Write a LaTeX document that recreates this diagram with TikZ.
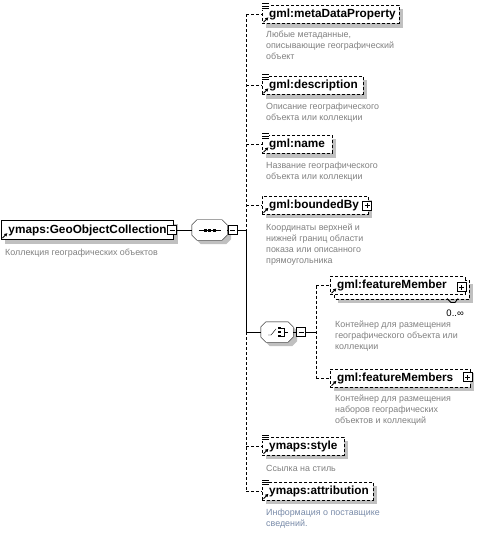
\documentclass[tikz,border=0pt]{standalone}
\usepackage{fontspec}
\setmainfont{Liberation Sans}
\usetikzlibrary{arrows.meta}
\pgfdeclarelayer{shadowlayer}
\pgfdeclarelayer{copylayer}
\pgfsetlayers{shadowlayer,copylayer,main}
\definecolor{shadowgray}{RGB}{192,192,192}
\definecolor{desc}{RGB}{128,128,128}
\definecolor{descblue}{RGB}{120,138,168}
\newcommand\pmminus[1]{\draw[line width=1pt,solid] ([xshift=-2.5pt]#1.center) -- ([xshift=2.5pt]#1.center);}
\newcommand\pmplus[1]{\pmminus{#1}\draw[line width=1pt,solid] ([yshift=-2.5pt]#1.center) -- ([yshift=2.5pt]#1.center);}
\newcommand\simpleicon[1]{%
  \fill[white] ([shift={(-1,-2.5)}]#1.north west) rectangle ([shift={(7,4.5)}]#1.north west);
  \foreach \d in {-1.5,0.8,3.1} \draw[line width=0.9pt,solid] ([shift={(0,\d)}]#1.north west) -- ++(6.5,0);}
\newcommand\refarrow[1]{%
  \draw[line width=0.9pt,solid,-{Triangle[length=3pt,width=3.2pt]}] ([shift={(1.5,-1.5)}]#1.south west) -- ++(4.8,-4.8);}
\newcommand\boxshadow[2][4]{%
  \begin{pgfonlayer}{shadowlayer}
  \fill[shadowgray] ([shift={(#1,#1)}]#2.north west) rectangle ([shift={(#1,#1)}]#2.south east);
  \end{pgfonlayer}}
\newcommand\octagon[3]{([shift={(#2+5,#3)}]#1.north west) -- ([shift={(#2-5,#3)}]#1.north east) -- ([shift={(#2,#3+5)}]#1.north east) -- ([shift={(#2,#3-5)}]#1.south east) -- ([shift={(#2-5,#3)}]#1.south east) -- ([shift={(#2+5,#3)}]#1.south west) -- ([shift={(#2,#3-5)}]#1.south west) -- ([shift={(#2,#3+5)}]#1.north west) -- cycle}
\begin{document}
\begin{tikzpicture}[x=1pt,y=-1pt,line width=1pt,
  box/.style={draw, fill=white, anchor=west, minimum height=18pt, inner xsep=7pt, inner ysep=0pt, align=left, font=\fontsize{11.8}{14}\selectfont\bfseries},
  solidbox/.style={box},
  optbox/.style={box, dash pattern=on 3pt off 2pt},
  dsc/.style={anchor=base west, inner sep=0pt, align=left, text=desc, font=\fontsize{8.9}{11}\selectfont},
  pm/.style={draw, solid, fill=white, minimum size=9pt, inner sep=0pt},
  optconn/.style={draw, dash pattern=on 3pt off 2pt},
  grp/.style={minimum height=20pt, inner sep=0pt},
]
\useasboundingbox (0,0) rectangle (481,534);

% root element
\node[solidbox, text width=158] (root) at (1,230) {ymaps:GeoObjectCollection};
\boxshadow{root}\refarrow{root}
\node[pm] (m0) at (172,230) {}; \pmminus{m0}
\node[dsc] (rootd) at (5,255) {Коллекция географических объектов};

% sequence
\node[grp, minimum width=35pt] (seq) at (209.5,230) {};
\begin{pgfonlayer}{shadowlayer}\fill[shadowgray] \octagon{seq}{4}{4};\end{pgfonlayer}
\draw[fill=white] \octagon{seq}{0}{0};
\draw ([xshift=-11pt]seq.center) -- ([xshift=11pt]seq.center);
\foreach \dx in {-4.5,0,4.5} \fill ([shift={(\dx-1.5,-1.5)}]seq.center) rectangle ++(3,3);
\node[pm] (m1) at (232.5,230) {}; \pmminus{m1}
\draw (m0.east) -- (seq.west);
\draw (seq.east) -- (m1.west);

% bus
\coordinate (btop) at (246,14.5);
\coordinate (bseq) at (246,230);
\coordinate (bch) at (246,332);
\coordinate (bbot) at (246,491);
\draw (m1.east) -- (bseq);
\draw[optconn] (btop) -- (bseq);
\draw (bseq) -- (bch);
\draw[optconn] (bch) -- (bbot);

% children (description nodes are anchored at the baseline of their last line)
\node[optbox, text width=123] (meta) at (262,14.5) {gml:metaDataProperty};
\boxshadow{meta}\simpleicon{meta}\refarrow{meta}
\node[dsc] (metad) at (266,60) {Любые метаданные,\\описывающие географический\\объект};

\node[optbox, text width=87] (descr) at (262,85.5) {gml:description};
\boxshadow{descr}\simpleicon{descr}\refarrow{descr}
\node[dsc] (descrd) at (266,121) {Описание географического\\объекта или коллекции};

\node[optbox, text width=56] (name) at (262,144.5) {gml:name};
\boxshadow{name}\simpleicon{name}\refarrow{name}
\node[dsc] (named) at (266,180) {Название географического\\объекта или коллекции};

\node[optbox, text width=92] (bnd) at (262,205) {gml:boundedBy};
\boxshadow{bnd}\refarrow{bnd}
\node[pm] (p1) at (367,205.5) {}; \pmplus{p1}
\node[dsc] (bndd) at (266,263) {Координаты верхней и\\нижней границ области\\показа или описанного\\прямоугольника};

\node[optbox, text width=68] (style) at (262,446) {ymaps:style};
\boxshadow{style}\simpleicon{style}\refarrow{style}
\node[dsc] (styled) at (266,471) {Ссылка на стиль};

\node[optbox, text width=97] (attr) at (262,491) {ymaps:attribution};
\boxshadow{attr}\simpleicon{attr}\refarrow{attr}
\node[dsc, text=descblue] (attrd) at (266,526) {Информация о поставщике\\сведений.};

\foreach \n in {meta,descr,name,bnd,style,attr}
  \draw[optconn] (btop |- \n.west) -- (\n.west);

% choice
\node[grp, minimum width=32pt] (ch) at (277,332) {};
\begin{pgfonlayer}{shadowlayer}\fill[shadowgray] \octagon{ch}{4}{4};\end{pgfonlayer}
\draw[fill=white] \octagon{ch}{0}{0};
\draw ([shift={(-9,3)}]ch.center) -- ++(3,0) -- ++(5,-6);
\foreach \dy in {-4,0,4} \fill ([shift={(1,\dy-1.2)}]ch.center) rectangle ++(2.5,2.4);
\draw ([shift={(4,-4)}]ch.center) -- ++(3,0) -- ++(0,8) -- ++(-3,0);
\draw ([shift={(7,0)}]ch.center) -- ++(4,0);
\node[pm] (m2) at (301,332) {}; \pmminus{m2}
\draw (bch) -- (ch.west);
\draw (ch.east) -- (m2.west);
\coordinate (cb) at (316,332);
\coordinate (cbtop) at (316,285.5);
\coordinate (cbbot) at (316,378);
\draw (m2.east) -- (cb);
\draw[optconn] (cbtop) -- (cbbot);

\node[optbox, text width=121] (fm) at (330,285.5) {gml:featureMember};
\boxshadow[8]{fm}
\begin{pgfonlayer}{copylayer}
\draw[fill=white, dash pattern=on 3pt off 2pt] ([shift={(4,4)}]fm.north west) rectangle ([shift={(4,4)}]fm.south east);
\end{pgfonlayer}
\refarrow{fm}
\node[pm] (p2) at (461.5,287) {}; \pmplus{p2}
\draw[line width=0.8pt] (447,298.5) -- (451,302.5) -- (455,302.5) -- (458,298.5);
\node[anchor=base east, inner sep=0pt, font=\fontsize{9.5}{11}\selectfont] (occ) at (464,316) {0..∞};
\node[dsc] (fmd) at (335,349) {Контейнер для размещения\\географического объекта или\\коллекции};

\node[optbox, text width=126] (fms) at (330,378) {gml:featureMembers};
\boxshadow{fms}\refarrow{fms}
\node[pm] (p3) at (467.5,377) {}; \pmplus{p3}
\node[dsc] (fmsd) at (335,423) {Контейнер для размещения\\наборов географических\\объектов и коллекций};

\draw[optconn] (cbtop) -- (fm.west);
\draw[optconn] (cbbot) -- (fms.west);
\end{tikzpicture}
\end{document}
